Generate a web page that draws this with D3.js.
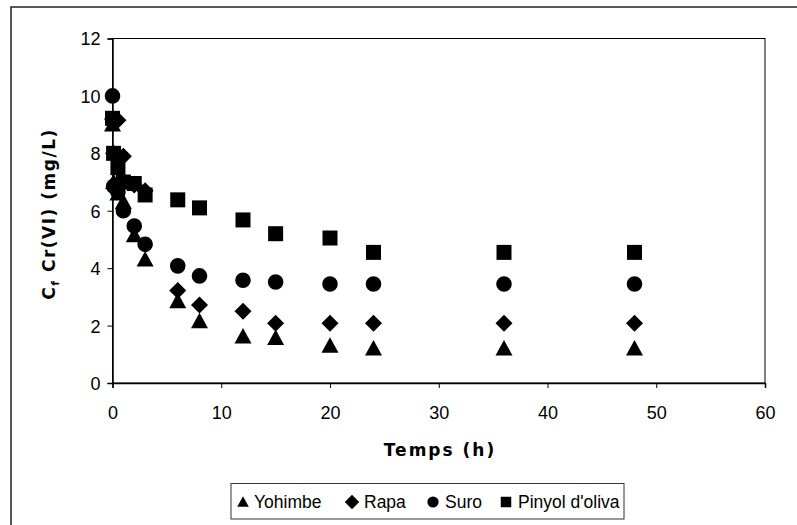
<!DOCTYPE html>
<html>
<head>
<meta charset="utf-8">
<script src="https://cdn.jsdelivr.net/npm/d3@7"></script>
<style>
  body { margin: 0; background: #fff; }
  text { font-family: "Liberation Sans", Arial, sans-serif; fill: #000; }
</style>
</head>
<body>
<script>
// sampling times (h)
var times = [0, 0.1, 0.5, 1, 2, 3, 6, 8, 12, 15, 20, 24, 36, 48];

// Cf Cr(VI) (mg/L) per adsorbent
var yohimbe = [9.0, 7.0, 6.6, 6.3, 5.15, 4.3, 2.85, 2.15, 1.62, 1.57, 1.3, 1.2, 1.2, 1.2];
var rapa    = [9.2, 8.0, 9.15, 7.9, 6.9, 6.7, 3.22, 2.72, 2.5, 2.08, 2.08, 2.08, 2.08, 2.08];
var suro    = [10.0, 6.85, 6.65, 6.0, 5.47, 4.83, 4.08, 3.73, 3.58, 3.52, 3.45, 3.45, 3.45, 3.45];
var pinyol  = [9.22, 8.0, 7.5, 7.0, 6.95, 6.55, 6.38, 6.1, 5.68, 5.2, 5.05, 4.55, 4.55, 4.55];

var seriesNames = ["Yohimbe", "Rapa", "Suro", "Pinyol d'oliva"];
var seriesValues = [yohimbe, rapa, suro, pinyol];
var shapes = ["triangle", "diamond", "circle", "square"];

var xTicks = [0, 10, 20, 30, 40, 50, 60];
var yTicks = [0, 2, 4, 6, 8, 10, 12];

var width = 797, height = 525;
var plotL = 112.5, plotR = 765, plotT = 38.5, plotB = 383;

var svg = d3.select("body").append("svg")
    .attr("width", width)
    .attr("height", height);

// outer chart frame (runs off the page on right/bottom)
svg.append("rect")
    .attr("x", 11).attr("y", 7)
    .attr("width", 820).attr("height", 540)
    .attr("fill", "none")
    .attr("stroke", "#222")
    .attr("stroke-width", 1.5);

var x = d3.scaleLinear().domain([0, 60]).range([plotL, plotR]);
var y = d3.scaleLinear().domain([0, 12]).range([plotB, plotT]);

// plot area border
svg.append("rect")
    .attr("x", plotL).attr("y", plotT)
    .attr("width", plotR - plotL).attr("height", plotB - plotT)
    .attr("fill", "none")
    .attr("stroke", "#000")
    .attr("stroke-width", 1);

var xAxis = svg.append("g")
    .attr("transform", "translate(0," + plotB + ")")
    .call(d3.axisBottom(x).tickValues(xTicks).tickSize(5).tickPadding(18));
var yAxis = svg.append("g")
    .attr("transform", "translate(" + plotL + ",0)")
    .call(d3.axisLeft(y).tickValues(yTicks).tickSize(5).tickPadding(7));

[xAxis, yAxis].forEach(function(a) {
  a.select(".domain").attr("stroke", "#000").attr("stroke-width", 1.5);
  a.selectAll(".tick line").attr("stroke", "#000").attr("stroke-width", 1);
  a.selectAll("text")
    .style("font-family", "'Liberation Sans', Arial, sans-serif")
    .style("font-size", "18px")
    .attr("fill", "#000");
});
yAxis.selectAll("text").attr("dy", "0.36em");

// axis titles
svg.append("text")
    .attr("x", 440).attr("y", 456)
    .attr("text-anchor", "middle")
    .style("font-family", "'DejaVu Sans', Verdana, sans-serif")
    .style("font-weight", "bold")
    .style("font-size", "17px")
    .style("letter-spacing", "2px")
    .text("Temps (h)");

var yTitle = svg.append("text")
    .attr("transform", "translate(55,214) rotate(-90)")
    .attr("text-anchor", "middle")
    .style("font-family", "'DejaVu Sans', Verdana, sans-serif")
    .style("font-weight", "bold")
    .style("font-size", "17px")
    .style("letter-spacing", "1.5px");
yTitle.append("tspan").text("C");
yTitle.append("tspan").attr("dy", 4).style("font-size", "11px").text("f");
yTitle.append("tspan").attr("dy", -4).text(" Cr(VI) (mg/L)");

// marker shapes
function markerPath(shape, s) {
  if (shape === "triangle") {
    var w = 17 * s, h = 15.5 * s;
    return "M0," + (-h * 0.55) + "L" + (w / 2) + "," + (h * 0.45) + "L" + (-w / 2) + "," + (h * 0.45) + "Z";
  }
  if (shape === "diamond") {
    var d = 8.5 * s;
    return "M0," + (-d) + "L" + d + ",0L0," + d + "L" + (-d) + ",0Z";
  }
  if (shape === "circle") {
    var r = 7.8 * s;
    return "M" + r + ",0A" + r + "," + r + " 0 1,1 " + (-r) + ",0A" + r + "," + r + " 0 1,1 " + r + ",0Z";
  }
  var q = 7.5 * s;
  return "M" + (-q) + "," + (-q) + "H" + q + "V" + q + "H" + (-q) + "Z";
}

seriesValues.forEach(function(vals, si) {
  var pts = vals.map(function(v, i) { return {t: times[i], v: v}; });
  svg.append("g").selectAll("path")
    .data(pts)
    .enter().append("path")
    .attr("transform", function(d) { return "translate(" + x(d.t) + "," + y(d.v) + ")"; })
    .attr("d", markerPath(shapes[si], 1))
    .attr("fill", "#000");
});

// legend
var legend = svg.append("g");
legend.append("rect")
    .attr("x", 231).attr("y", 483.5)
    .attr("width", 393).attr("height", 35.5)
    .attr("fill", "#fff")
    .attr("stroke", "#333")
    .attr("stroke-width", 1);

var legendSym = [243, 352, 433, 506];
var legendTxt = [254, 364, 445, 518];
var legendScale = [0.68, 0.85, 0.72, 0.7];
seriesNames.forEach(function(name, i) {
  legend.append("path")
    .attr("transform", "translate(" + legendSym[i] + ",502)")
    .attr("d", markerPath(shapes[i], legendScale[i]))
    .attr("fill", "#000");
  legend.append("text")
    .attr("x", legendTxt[i]).attr("y", 508)
    .style("font-size", "17.5px")
    .text(name);
});
</script>
</body>
</html>
